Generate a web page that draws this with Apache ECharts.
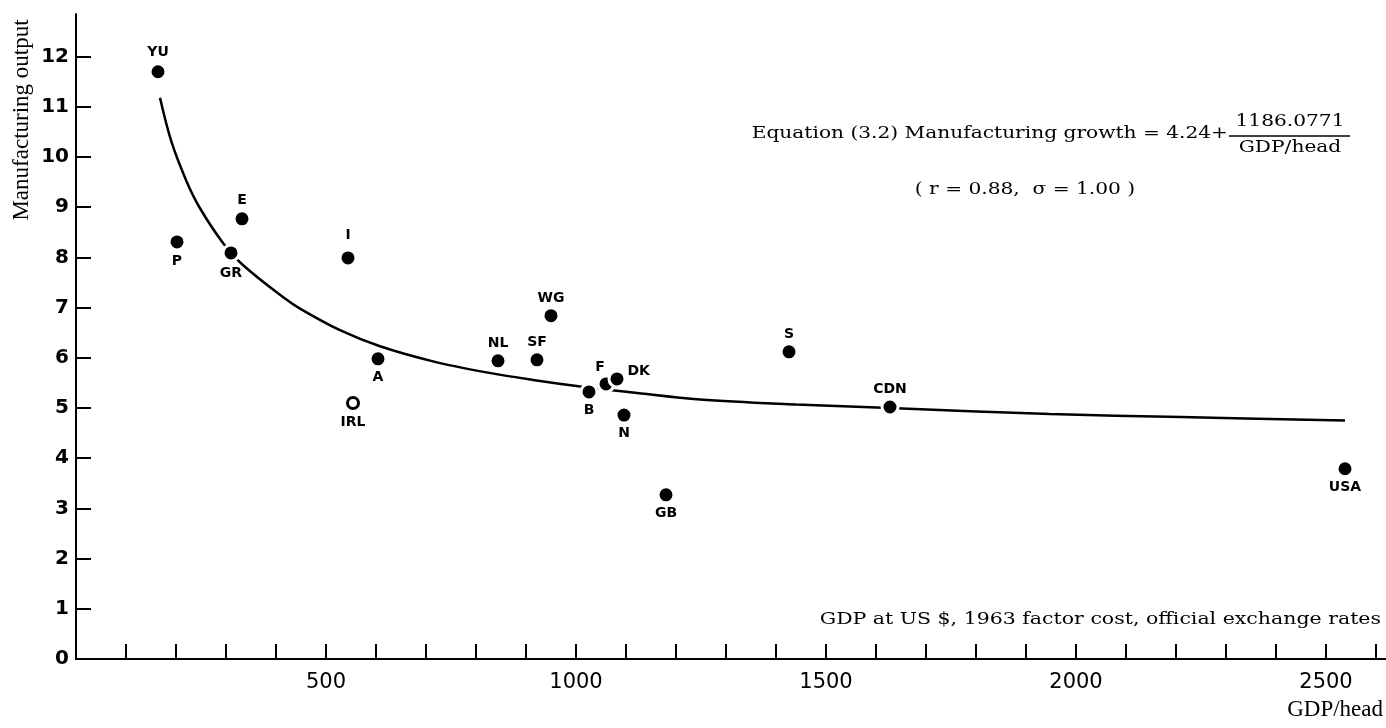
<!DOCTYPE html>
<html>
<head>
<meta charset="utf-8">
<script src="https://cdn.jsdelivr.net/npm/echarts@6/dist/echarts.min.js"></script>
<style>
  html, body { margin: 0; padding: 0; background: #fff; }
  #chart { width: 1386px; height: 728px; }
</style>
</head>
<body>
<div id="chart"></div>
<script>
// Country codes with GDP per head (US $, 1963) and manufacturing output growth
const countries = ['YU', 'P', 'GR', 'E', 'I', 'A', 'IRL', 'NL', 'SF', 'WG', 'B', 'F', 'DK', 'N', 'GB', 'S', 'CDN', 'USA'];
const gdpPerHead = [164, 202, 310, 332, 544, 604, 554, 844, 922, 950, 1026, 1060, 1082, 1096, 1180, 1426, 1628, 2538];
const mfgGrowth = [11.70, 8.31, 8.09, 8.77, 7.99, 5.98, 5.10, 5.94, 5.96, 6.84, 5.32, 5.48, 5.58, 4.86, 3.27, 6.12, 5.02, 3.79];

// Fitted curve, equation (3.2), sampled along its drawn path
const fitGdp = [168, 191, 221, 248, 294, 335, 418, 448, 528, 608, 714, 821, 914, 1008, 1114, 1248, 1440, 1628, 1948, 2210, 2538];
const fitMfg = [11.18, 10.30, 9.52, 8.98, 8.29, 7.84, 7.18, 6.98, 6.55, 6.23, 5.93, 5.71, 5.56, 5.43, 5.31, 5.17, 5.07, 5.00, 4.88, 4.82, 4.75];

// Axis ticks and labels
const xTicks = [100, 200, 300, 400, 500, 600, 700, 800, 900, 1000, 1100, 1200, 1300, 1400, 1500, 1600, 1700, 1800, 1900, 2000, 2100, 2200, 2300, 2400, 2500, 2600];
const xLabels = [500, 1000, 1500, 2000, 2500];
const yTicks = [1, 2, 3, 4, 5, 6, 7, 8, 9, 10, 11, 12];
const yLabels = [0, 1, 2, 3, 4, 5, 6, 7, 8, 9, 10, 11, 12];

// Where each country's code sits relative to its dot
const labelPlace = {
  YU: { position: 'top', distance: 3 },
  P: { position: 'bottom', distance: 3 },
  GR: { position: 'bottom', distance: 4 },
  E: { position: 'top', distance: 2 },
  I: { position: 'top', distance: 6 },
  A: { position: 'bottom', distance: 2 },
  IRL: { position: 'bottom', distance: 5 },
  NL: { position: 'top', distance: 1 },
  SF: { position: 'top', distance: 1 },
  WG: { position: 'top', distance: 1 },
  B: { position: 'bottom', distance: 2 },
  F: { position: 'top', distance: 0, offset: [-6, 0] },
  DK: { position: 'right', distance: 1, offset: [0, -8] },
  N: { position: 'bottom', distance: 2 },
  GB: { position: 'bottom', distance: 2 },
  S: { position: 'top', distance: 1 },
  CDN: { position: 'top', distance: 1 },
  USA: { position: 'bottom', distance: 2 }
};

const pointData = countries.map((c, i) => {
  const item = {
    name: c,
    value: [gdpPerHead[i], mfgGrowth[i]],
    label: Object.assign({}, labelPlace[c])
  };
  if (c === 'IRL') {
    item.symbolSize = 11;
    item.itemStyle = { color: '#fff', borderColor: '#000', borderWidth: 3 };
  }
  return item;
});

const fitData = fitGdp.map((g, i) => [g, fitMfg[i]]);

const serifFont = '"DejaVu Serif", serif';
const textStyle = (text, align, font) => ({
  text: text, x: 0, y: 0, fill: '#000', font: font,
  align: align, verticalAlign: 'middle', textAlign: align, textVerticalAlign: 'middle'
});

const chart = echarts.init(document.getElementById('chart'), null, { renderer: 'canvas' });

chart.setOption({
  backgroundColor: '#fff',
  animation: false,
  grid: { left: 76, right: 0, top: 14, bottom: 69, containLabel: false },
  xAxis: {
    type: 'value',
    min: 0,
    max: 2620,
    axisLine: { show: true, lineStyle: { color: '#000', width: 2 } },
    axisTick: { show: true, inside: true, length: 15, customValues: xTicks, lineStyle: { color: '#000', width: 2 } },
    axisLabel: {
      customValues: xLabels,
      formatter: v => String(v),
      margin: 13,
      color: '#000',
      fontSize: 21,
      fontFamily: '"DejaVu Sans", sans-serif'
    },
    splitLine: { show: false }
  },
  yAxis: {
    type: 'value',
    min: 0,
    max: 12.85,
    axisLine: { show: true, lineStyle: { color: '#000', width: 2 } },
    axisTick: { show: true, inside: true, length: 15, customValues: yTicks, lineStyle: { color: '#000', width: 2 } },
    axisLabel: {
      customValues: yLabels,
      margin: 7,
      color: '#000',
      fontSize: 20,
      fontWeight: 'bold',
      fontFamily: '"DejaVu Sans", sans-serif'
    },
    splitLine: { show: false }
  },
  series: [
    {
      type: 'line',
      data: fitData,
      smooth: 0.35,
      symbol: 'none',
      lineStyle: { color: '#000', width: 2.5 },
      z: 2
    },
    {
      type: 'scatter',
      data: pointData,
      symbol: 'circle',
      symbolSize: 16,
      itemStyle: { color: '#000', opacity: 1, borderColor: '#fff', borderWidth: 3 },
      label: {
        show: true,
        formatter: '{b}',
        color: '#000',
        fontSize: 14,
        fontWeight: 'bold',
        fontFamily: '"DejaVu Sans", sans-serif'
      },
      z: 3
    }
  ],
  graphic: [
    {
      type: 'text',
      x: 22, y: 120,
      rotation: Math.PI / 2,
      style: textStyle('Manufacturing output', 'center', '23px "Liberation Serif", serif')
    },
    {
      type: 'text',
      x: 1228, y: 134, scaleX: 1.26,
      style: textStyle('Equation (3.2) Manufacturing growth = 4.24+', 'right', '16px ' + serifFont)
    },
    {
      type: 'text',
      x: 1290, y: 122, scaleX: 1.26,
      style: textStyle('1186.0771', 'center', '16px ' + serifFont)
    },
    {
      type: 'line',
      shape: { x1: 1229, y1: 136, x2: 1350, y2: 136 },
      style: { stroke: '#000', lineWidth: 1.5 }
    },
    {
      type: 'text',
      x: 1290, y: 148, scaleX: 1.26,
      style: textStyle('GDP/head', 'center', '16px ' + serifFont)
    },
    {
      type: 'text',
      x: 1025, y: 190, scaleX: 1.26,
      style: textStyle('( r = 0.88,  \u03c3 = 1.00 )', 'center', '16px ' + serifFont)
    },
    {
      type: 'text',
      x: 1381, y: 620, scaleX: 1.28,
      style: textStyle('GDP at US $, 1963 factor cost, official exchange rates', 'right', '16px ' + serifFont)
    },
    {
      type: 'text',
      x: 1383, y: 710,
      style: textStyle('GDP/head', 'right', '23px "Liberation Serif", serif')
    }
  ]
});
</script>
</body>
</html>
